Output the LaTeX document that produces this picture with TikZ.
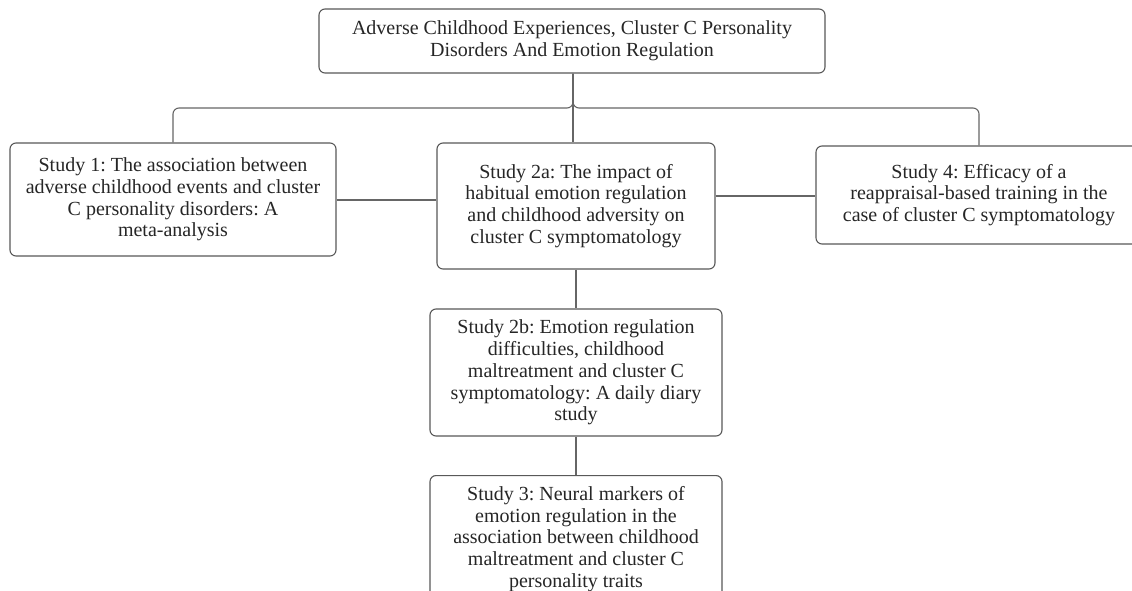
\documentclass[tikz,border=0pt]{standalone}
\usepackage{fontspec}
\setmainfont{Liberation Serif}
\begin{document}
\frenchspacing
\begin{tikzpicture}[x=1pt,y=-1pt,
  box/.style={draw=black!65, line width=1.1pt, rounded corners=6pt, fill=white,
    align=center, inner sep=0pt, text=black!85,
    font=\fontsize{20}{21.8}\selectfont\frenchspacing},
  conn/.style={draw=black!60, line width=1.1pt}]
\useasboundingbox (0,0) rectangle (1132,591);
\clip (0,0) rectangle (1132,591);
\fill[white] (0,0) rectangle (1132,591);
\node[box, minimum width=506pt, minimum height=64pt] (top) at (572,41)
  {Adverse Childhood Experiences, Cluster C Personality\\Disorders And Emotion Regulation};
\node[box, minimum width=326pt, minimum height=113pt] (s1) at (173,199.5)
  {Study 1: The association between\\adverse childhood events and cluster\\C personality disorders: A\\meta-analysis};
\node[box, minimum width=278pt, minimum height=126pt] (s2a) at (576,206)
  {Study 2a: The impact of\\habitual emotion regulation\\and childhood adversity on\\cluster C symptomatology};
\node[box, minimum width=326pt, minimum height=98pt] (s4) at (979,195)
  {Study 4: Efficacy of a\\reappraisal-based training in the\\case of cluster C symptomatology};
\node[box, minimum width=292pt, minimum height=127pt] (s2b) at (576,372.5)
  {Study 2b: Emotion regulation\\difficulties, childhood\\maltreatment and cluster C\\symptomatology: A daily diary\\study};
\node[box, minimum width=292pt, minimum height=127pt, anchor=north] (s3) at (576,475)
  {Study 3: Neural markers of\\emotion regulation in the\\association between childhood\\maltreatment and cluster C\\personality traits};
\coordinate (j) at (573,108);
\draw[conn] (j |- top.south) -- (j |- s2a.north);
\draw[conn, rounded corners=6pt] (s1.north) |- (j) -- (j |- top.south);
\draw[conn, rounded corners=6pt] (s4.north) |- (j) -- (j |- top.south);
\draw[conn] (s1.east |- 0,200) -- (s2a.west |- 0,200);
\draw[conn] (s2a.east |- 0,196) -- (s4.west |- 0,196);
\draw[conn] (s2a.south) -- (s2b.north);
\draw[conn] (s2b.south) -- (s3.north);
\end{tikzpicture}
\end{document}
